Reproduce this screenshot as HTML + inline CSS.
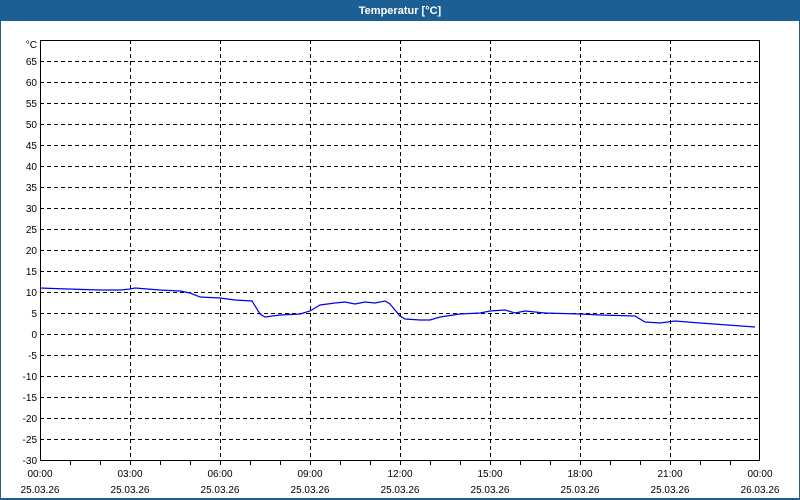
<!DOCTYPE html><html><head><style>body{margin:0}svg{display:block;font-family:"Liberation Sans",sans-serif}</style></head><body>
<svg width="800" height="500" viewBox="0 0 800 500">
<rect width="800" height="500" fill="#1c5f95"/>
<rect x="1" y="21" width="798" height="477" fill="#fff"/>
<text x="400" y="14" fill="#fff" font-size="11" font-weight="bold" text-anchor="middle">Temperatur [°C]</text>
<g stroke="#000" stroke-dasharray="4,3" stroke-width="1">
<path d="M40 61.5H760M40 82.5H760M40 103.5H760M40 124.5H760M40 145.5H760M40 166.5H760M40 187.5H760M40 208.5H760M40 229.5H760M40 250.5H760M40 271.5H760M40 292.5H760M40 313.5H760M40 334.5H760M40 355.5H760M40 376.5H760M40 397.5H760M40 418.5H760M40 439.5H760"/>
<path d="M130.5 40V460M220.5 40V460M310.5 40V460M400.5 40V460M490.5 40V460M580.5 40V460M670.5 40V460"/>
</g>
<rect x="40.5" y="40.5" width="719" height="420" fill="none" stroke="#000"/>
<g stroke="#000"><path d="M70.5 460V465M100.5 460V465M130.5 460V465M160.5 460V465M190.5 460V465M220.5 460V465M250.5 460V465M280.5 460V465M310.5 460V465M340.5 460V465M370.5 460V465M400.5 460V465M430.5 460V465M460.5 460V465M490.5 460V465M520.5 460V465M550.5 460V465M580.5 460V465M610.5 460V465M640.5 460V465M670.5 460V465M700.5 460V465M730.5 460V465"/></g>
<g font-size="10" text-anchor="end" fill="#000">
<text x="37" y="48">°C</text>
<text x="37" y="65">65</text><text x="37" y="86">60</text><text x="37" y="107">55</text><text x="37" y="128">50</text><text x="37" y="149">45</text><text x="37" y="170">40</text><text x="37" y="191">35</text><text x="37" y="212">30</text><text x="37" y="233">25</text><text x="37" y="254">20</text><text x="37" y="275">15</text><text x="37" y="296">10</text><text x="37" y="317">5</text><text x="37" y="338">0</text><text x="37" y="359">-5</text><text x="37" y="380">-10</text><text x="37" y="401">-15</text><text x="37" y="422">-20</text><text x="37" y="443">-25</text><text x="37" y="464">-30</text>
</g>
<g font-size="10" text-anchor="middle" fill="#000">
<text x="40" y="477">00:00</text><text x="40" y="493">25.03.26</text>
<text x="130" y="477">03:00</text><text x="130" y="493">25.03.26</text>
<text x="220" y="477">06:00</text><text x="220" y="493">25.03.26</text>
<text x="310" y="477">09:00</text><text x="310" y="493">25.03.26</text>
<text x="400" y="477">12:00</text><text x="400" y="493">25.03.26</text>
<text x="490" y="477">15:00</text><text x="490" y="493">25.03.26</text>
<text x="580" y="477">18:00</text><text x="580" y="493">25.03.26</text>
<text x="670" y="477">21:00</text><text x="670" y="493">25.03.26</text>
<text x="760" y="477">00:00</text><text x="760" y="493">26.03.26</text>
</g>
<polyline fill="none" stroke="#0000ee" stroke-width="1.2" points="40,288 68,289 100,290 120,290 130,289 135,288 160,290 180,291 190,293 200,297 220,298 235,300 252,301 260,314 265,317 280,315 300,314 310,311 320,305 335,303 345,302 355,304 365,302 375,303 385,301 390,304 400,316 405,319 420,320 430,320 440,317 460,314 480,313 490,311 505,310 515,313 525,311 545,313 580,314 600,315 635,316 645,322 660,323 675,321 700,323 755,327"/>
</svg>
</body></html>
